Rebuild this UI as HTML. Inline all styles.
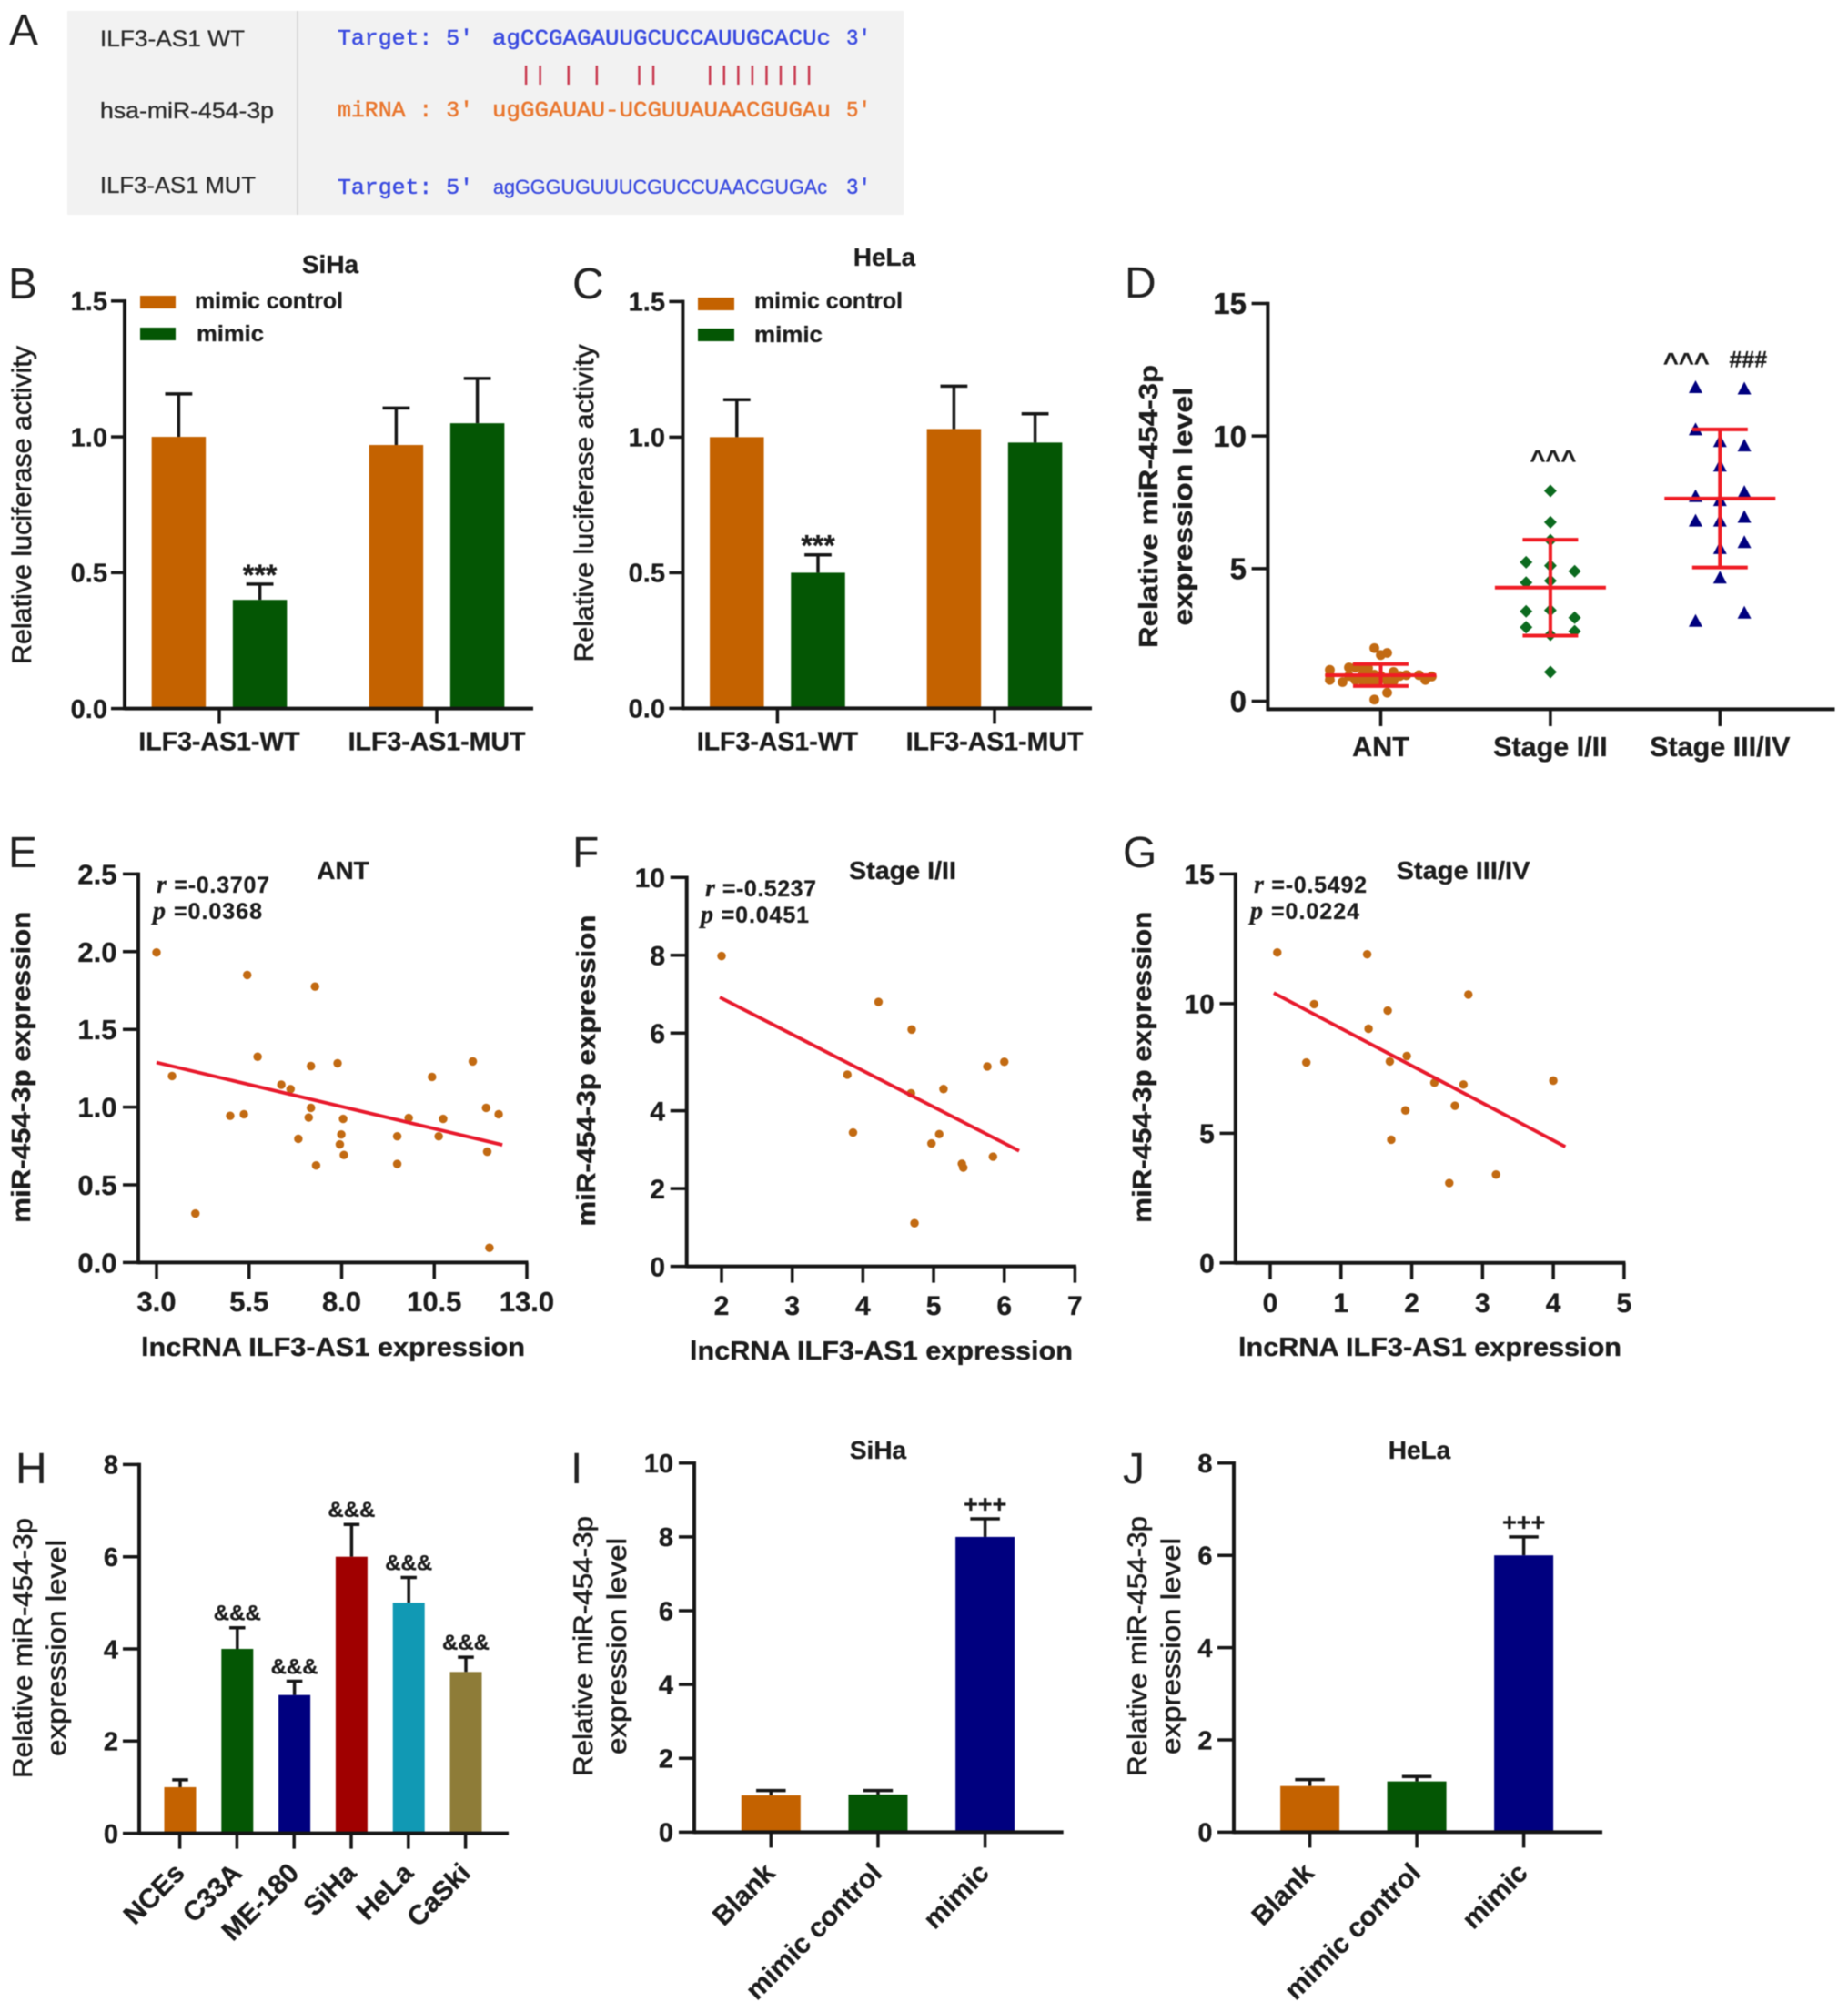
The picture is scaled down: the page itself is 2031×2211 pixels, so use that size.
<!DOCTYPE html>
<html lang="en">
<head>
<meta charset="utf-8">
<title>miR-454-3p figure</title>
<style>
html,body{margin:0;padding:0;background:#fff;}
svg{display:block;filter:blur(0.55px);font-family:"Liberation Sans",sans-serif;fill:#1c1c1c;}
text[font-weight=bold]{stroke:#1c1c1c;stroke-width:.3px;}
.letter{font-size:48px;fill:#222;}
.title{font-size:28px;font-weight:bold;stroke:#1c1c1c;stroke-width:.3px;}
.legend{font-size:25px;font-weight:bold;stroke:#1c1c1c;stroke-width:.3px;}
.ytitle-r{font-size:30px;stroke:#1c1c1c;stroke-width:.55px;}
.ytitle-b{font-size:29px;font-weight:bold;stroke:#1c1c1c;stroke-width:.35px;}
.stat{font-size:25px;font-weight:bold;stroke:#1c1c1c;stroke-width:.25px;}
.stat .i{font-family:"Liberation Serif",serif;font-style:italic;font-size:28px;}
.mono{font-family:"Liberation Mono",monospace;font-size:24px;stroke-width:.5px;}
.blue{fill:#3a4be0;stroke:#3a4be0;}
.orange{fill:#e9772f;stroke:#e9772f;}
.a-label{font-size:25px;fill:#2a2a2a;stroke:#2a2a2a;stroke-width:.3px;}
.seq-sans{font-size:22px;fill:#3a4be0;stroke:#3a4be0;stroke-width:.3px;}
</style>
</head>
<body>
<svg id="figure" xmlns="http://www.w3.org/2000/svg" width="2031" height="2211" viewBox="0 0 2031 2211">
<rect x="0" y="0" width="2031" height="2211" fill="#fff"/>

<g id="panel-a">
  <text class="letter" x="10" y="49">A</text>
  <rect x="74" y="12" width="919" height="224" fill="#f2f2f2"/>
  <rect x="326" y="12" width="2" height="224" fill="#d9d9d9"/>
  <text class="a-label" x="110" y="51" textLength="159" lengthAdjust="spacingAndGlyphs">ILF3-AS1 WT</text>
  <text class="a-label" x="110" y="130" textLength="191" lengthAdjust="spacingAndGlyphs">hsa-miR-454-3p</text>
  <text class="a-label" x="110" y="212" textLength="171" lengthAdjust="spacingAndGlyphs">ILF3-AS1 MUT</text>
  <text class="mono blue" x="371" y="49" textLength="149" lengthAdjust="spacingAndGlyphs">Target: 5'</text>
  <text class="mono blue" x="541" y="49" textLength="372" lengthAdjust="spacingAndGlyphs">agCCGAGAUUGCUCCAUUGCACUc</text>
  <text class="mono blue" x="930" y="49" textLength="27" lengthAdjust="spacingAndGlyphs">3'</text>
  <text class="mono orange" x="371" y="128" textLength="149" lengthAdjust="spacingAndGlyphs">miRNA : 3'</text>
  <text class="mono orange" x="541" y="128" textLength="372" lengthAdjust="spacingAndGlyphs">ugGGAUAU-UCGUUAUAACGUGAu</text>
  <text class="mono orange" x="930" y="128" textLength="27" lengthAdjust="spacingAndGlyphs">5'</text>
  <text class="mono blue" x="371" y="213" textLength="149" lengthAdjust="spacingAndGlyphs">Target: 5'</text>
  <text class="seq-sans" x="542" y="213" textLength="367" lengthAdjust="spacingAndGlyphs">agGGGUGUUUCGUCCUAACGUGAc</text>
  <text class="mono blue" x="930" y="213" textLength="27" lengthAdjust="spacingAndGlyphs">3'</text>
  <g id="pair-marks" stroke="#c93a50" stroke-width="2.5"></g>
</g>

<g id="panel-b">
  <text class="letter" x="9" y="328">B</text>
  <text class="title" x="363" y="300" text-anchor="middle">SiHa</text>
  <text class="ytitle-r" transform="translate(34 555) rotate(-90)" text-anchor="middle" textLength="350" lengthAdjust="spacingAndGlyphs">Relative luciferase activity</text>
  <rect x="154" y="325" width="39" height="14" fill="#c46200"/>
  <rect x="154" y="360" width="39" height="14" fill="#045604"/>
  <text class="legend" x="214" y="339" textLength="163" lengthAdjust="spacingAndGlyphs">mimic control</text>
  <text class="legend" x="216" y="375" textLength="74" lengthAdjust="spacingAndGlyphs">mimic</text>
</g>

<g id="panel-c">
  <text class="letter" x="629" y="328">C</text>
  <text class="title" x="972" y="292" text-anchor="middle">HeLa</text>
  <text class="ytitle-r" transform="translate(652 553) rotate(-90)" text-anchor="middle" textLength="349" lengthAdjust="spacingAndGlyphs">Relative luciferase activity</text>
  <rect x="767" y="327" width="40" height="14" fill="#c46200"/>
  <rect x="767" y="361" width="40" height="14" fill="#045604"/>
  <text class="legend" x="829" y="339" textLength="163" lengthAdjust="spacingAndGlyphs">mimic control</text>
  <text class="legend" x="829" y="376" textLength="75" lengthAdjust="spacingAndGlyphs">mimic</text>
</g>

<g id="panel-d">
  <text class="letter" x="1236" y="327">D</text>
  <text class="ytitle-b" transform="translate(1272 556.5) rotate(-90)" text-anchor="middle" textLength="311" lengthAdjust="spacingAndGlyphs">Relative miR-454-3p</text>
  <text class="ytitle-b" transform="translate(1310 556.5) rotate(-90)" text-anchor="middle" textLength="262" lengthAdjust="spacingAndGlyphs">expression level</text>
</g>

<g id="panel-e">
  <text class="letter" x="9" y="953">E</text>
  <text class="title" x="377" y="966" text-anchor="middle">ANT</text>
  <text class="ytitle-b" transform="translate(33 1172.7) rotate(-90)" text-anchor="middle" textLength="342" lengthAdjust="spacingAndGlyphs">miR-454-3p expression</text>
  <text class="ytitle-b" x="155" y="1490" textLength="422" lengthAdjust="spacingAndGlyphs">lncRNA ILF3-AS1 expression</text>
  <text class="stat" x="172" y="981" textLength="124" lengthAdjust="spacing"><tspan class="i">r</tspan> =-0.3707</text>
  <text class="stat" x="168" y="1010" textLength="120" lengthAdjust="spacing"><tspan class="i">p</tspan> =0.0368</text>
</g>

<g id="panel-f">
  <text class="letter" x="629" y="953">F</text>
  <text class="title" x="992" y="966" text-anchor="middle" textLength="118" lengthAdjust="spacingAndGlyphs">Stage I/II</text>
  <text class="ytitle-b" transform="translate(654 1176.6) rotate(-90)" text-anchor="middle" textLength="342" lengthAdjust="spacingAndGlyphs">miR-454-3p expression</text>
  <text class="ytitle-b" x="758" y="1494" textLength="421" lengthAdjust="spacingAndGlyphs">lncRNA ILF3-AS1 expression</text>
  <text class="stat" x="775" y="985" textLength="122" lengthAdjust="spacing"><tspan class="i">r</tspan> =-0.5237</text>
  <text class="stat" x="770" y="1014" textLength="119" lengthAdjust="spacing"><tspan class="i">p</tspan> =0.0451</text>
</g>

<g id="panel-g">
  <text class="letter" x="1234" y="953">G</text>
  <text class="title" x="1608" y="966" text-anchor="middle" textLength="147" lengthAdjust="spacingAndGlyphs">Stage III/IV</text>
  <text class="ytitle-b" transform="translate(1265 1172.7) rotate(-90)" text-anchor="middle" textLength="342" lengthAdjust="spacingAndGlyphs">miR-454-3p expression</text>
  <text class="ytitle-b" x="1361" y="1490" textLength="421" lengthAdjust="spacingAndGlyphs">lncRNA ILF3-AS1 expression</text>
  <text class="stat" x="1378" y="981" textLength="124" lengthAdjust="spacing"><tspan class="i">r</tspan> =-0.5492</text>
  <text class="stat" x="1374" y="1010" textLength="120" lengthAdjust="spacing"><tspan class="i">p</tspan> =0.0224</text>
</g>

<g id="panel-h">
  <text class="letter" x="17" y="1630">H</text>
  <text class="ytitle-r" transform="translate(35 1811) rotate(-90)" text-anchor="middle" textLength="286" lengthAdjust="spacingAndGlyphs">Relative miR-454-3p</text>
  <text class="ytitle-r" transform="translate(72 1811) rotate(-90)" text-anchor="middle" textLength="238" lengthAdjust="spacingAndGlyphs">expression level</text>
</g>

<g id="panel-i">
  <text class="letter" x="627" y="1630">I</text>
  <text class="title" x="965" y="1603" text-anchor="middle">SiHa</text>
  <text class="ytitle-r" transform="translate(651 1809) rotate(-90)" text-anchor="middle" textLength="286" lengthAdjust="spacingAndGlyphs">Relative miR-454-3p</text>
  <text class="ytitle-r" transform="translate(688 1809) rotate(-90)" text-anchor="middle" textLength="238" lengthAdjust="spacingAndGlyphs">expression level</text>
</g>

<g id="panel-j">
  <text class="letter" x="1234" y="1630">J</text>
  <text class="title" x="1560" y="1603" text-anchor="middle">HeLa</text>
  <text class="ytitle-r" transform="translate(1260 1809) rotate(-90)" text-anchor="middle" textLength="286" lengthAdjust="spacingAndGlyphs">Relative miR-454-3p</text>
  <text class="ytitle-r" transform="translate(1297 1809) rotate(-90)" text-anchor="middle" textLength="238" lengthAdjust="spacingAndGlyphs">expression level</text>
</g>
</svg>

<script>
/* ---------- Panel B ---------- */
const bCategories = ['ILF3-AS1-WT', 'ILF3-AS1-MUT'];
const bControl = [1.0, 0.97];
const bControlErr = [0.158, 0.136];
const bMimic = [0.4, 1.05];
const bMimicErr = [0.058, 0.165];
const bYTicks = [0, 0.5, 1, 1.5];
const bYTickLabels = ['0.0', '0.5', '1.0', '1.5'];
const bSignificance = ['***', ''];

/* ---------- Panel C ---------- */
const cCategories = ['ILF3-AS1-WT', 'ILF3-AS1-MUT'];
const cControl = [1.0, 1.03];
const cControlErr = [0.138, 0.158];
const cMimic = [0.5, 0.98];
const cMimicErr = [0.066, 0.106];
const cYTicks = [0, 0.5, 1, 1.5];
const cYTickLabels = ['0.0', '0.5', '1.0', '1.5'];
const cSignificance = ['***', ''];

/* ---------- Panel D ---------- */
const dCategories = ['ANT', 'Stage I/II', 'Stage III/IV'];
const dYTicks = [0, 5, 10, 15];
const dYTickLabels = ['0', '5', '10', '15'];
const dMeans = [0.98, 4.28, 7.64];
const dUpper = [1.4, 6.09, 10.25];
const dLower = [0.57, 2.47, 5.04];
const dAntValues = [2.0, 1.82, 1.74, 1.18, 0.8, 0.72, 1.27, 1.27, 1.27, 0.95, 0.8, 0.8, 0.76, 0.7, 1.1, 0.95, 0.98, 0.76, 0.98, 0.8, 0.93, 0.06, 0.32, 1.0, 1.0, 0.95, 0.98, 0.76, 1.25, 0.95];
const dAntSlots = [-1, 1, 0, -8, -8, -6, -5, -4, -3, -5, -4, -3, -2, -1, 2, 3, 4, 2, 6, 7, 8, -1, 1, -1, -2, -3, -8, 1, -2, 0];
const dEarlyValues = [7.93, 6.75, 6.07, 5.24, 5.11, 4.9, 4.47, 4.54, 3.39, 3.43, 3.15, 2.79, 2.64, 2.5, 1.1];
const dEarlySlots = [0, 0, 0, -1, 0, 1, -1, 0, -1, 0, 1, -1, 1, 0, 0];
const dLateValues = [11.84, 11.79, 10.25, 9.81, 9.64, 8.88, 7.73, 7.89, 7.58, 6.81, 6.81, 6.95, 5.77, 6.0, 4.66, 3.34, 3.03];
const dLateSlots = [-1, 1, -1, 0, 1, 0, -1, 1, 0, -1, 0, 1, 0, 1, 0, 1, -1];
const dCaretLevels = [8.79, 12.46];

/* ---------- Panel E ---------- */
const eX = [3.0, 3.42, 4.05, 4.99, 5.36, 5.45, 5.73, 6.37, 6.62, 6.83, 7.11, 7.17, 7.17, 7.28, 7.31, 7.89, 7.95, 7.99, 8.04, 8.06, 9.5, 9.5, 9.81, 10.44, 10.62, 10.74, 11.54, 11.9, 11.93, 11.99, 12.24];
const eY = [1.995, 1.2, 0.315, 0.944, 0.954, 1.85, 1.324, 1.144, 1.116, 0.796, 0.933, 0.995, 1.264, 1.775, 0.625, 1.282, 0.76, 0.824, 0.924, 0.692, 0.812, 0.634, 0.93, 1.194, 0.812, 0.924, 1.294, 0.995, 0.713, 0.095, 0.954];
const eLineX = [3.0, 12.34];
const eLineY = [1.287, 0.757];
const eXTicks = [3, 5.5, 8, 10.5, 13];
const eXTickLabels = ['3.0', '5.5', '8.0', '10.5', '13.0'];
const eYTicks = [0, 0.5, 1, 1.5, 2, 2.5];
const eYTickLabels = ['0.0', '0.5', '1.0', '1.5', '2.0', '2.5'];

/* ---------- Panel F ---------- */
const fX = [2.0, 3.78, 3.86, 4.22, 4.68, 4.69, 4.73, 4.97, 5.08, 5.14, 5.4, 5.42, 5.76, 5.84, 6.0];
const fY = [7.98, 4.93, 3.44, 6.8, 4.45, 6.09, 1.11, 3.16, 3.4, 4.56, 2.64, 2.54, 5.14, 2.82, 5.26];
const fLineX = [1.975, 6.21];
const fLineY = [6.92, 2.97];
const fXTicks = [2, 3, 4, 5, 6, 7];
const fXTickLabels = ['2', '3', '4', '5', '6', '7'];
const fYTicks = [0, 2, 4, 6, 8, 10];
const fYTickLabels = ['0', '2', '4', '6', '8', '10'];

/* ---------- Panel G ---------- */
const gX = [0.1, 0.62, 0.51, 1.37, 1.39, 1.66, 1.69, 1.71, 1.91, 1.93, 2.32, 2.53, 2.61, 2.73, 2.8, 3.19, 4.0];
const gY = [11.97, 9.98, 7.73, 11.9, 9.03, 9.73, 7.77, 4.75, 5.88, 7.98, 6.95, 3.08, 6.06, 6.88, 10.35, 3.41, 7.03];
const gLineX = [0.05, 4.17];
const gLineY = [10.41, 4.48];
const gXTicks = [0, 1, 2, 3, 4, 5];
const gXTickLabels = ['0', '1', '2', '3', '4', '5'];
const gYTicks = [0, 5, 10, 15];
const gYTickLabels = ['0', '5', '10', '15'];

/* ---------- Panel H ---------- */
const hCategories = ['NCEs', 'C33A', 'ME-180', 'SiHa', 'HeLa', 'CaSki'];
const hValues = [1, 4, 3, 6, 5, 3.5];
const hErrors = [0.16, 0.46, 0.3, 0.7, 0.55, 0.32];
const hColors = ['#c46200', '#045604', '#00007f', '#a00000', '#1199b4', '#8e7c38'];
const hYTicks = [0, 2, 4, 6, 8];
const hYTickLabels = ['0', '2', '4', '6', '8'];
const hSignificance = ['', '&&&', '&&&', '&&&', '&&&', '&&&'];

/* ---------- Panel I ---------- */
const iCategories = ['Blank', 'mimic control', 'mimic'];
const iValues = [1, 1.02, 8];
const iErrors = [0.13, 0.11, 0.49];
const iColors = ['#c46200', '#045604', '#00007f'];
const iYTicks = [0, 2, 4, 6, 8, 10];
const iYTickLabels = ['0', '2', '4', '6', '8', '10'];
const iSignificance = ['', '', '+++'];

/* ---------- Panel J ---------- */
const jCategories = ['Blank', 'mimic control', 'mimic'];
const jValues = [1, 1.1, 6];
const jErrors = [0.14, 0.106, 0.4];
const jColors = ['#c46200', '#045604', '#00007f'];
const jYTicks = [0, 2, 4, 6, 8];
const jYTickLabels = ['0', '2', '4', '6', '8'];
const jSignificance = ['', '', '+++'];

/* ---------- Panel A pairing (base index along the sequence) ---------- */
const pairIndexes = [2, 3, 5, 7, 10, 11, 15, 16, 17, 18, 19, 20, 21, 22];

const NS = 'http://www.w3.org/2000/svg';
const INK = '#161616';

function add(parent, tag, attrs, content) {
  const node = document.createElementNS(NS, tag);
  Object.keys(attrs).forEach(function (k) { node.setAttribute(k, attrs[k]); });
  if (content !== undefined) node.textContent = content;
  parent.appendChild(node);
  return node;
}
function linear(d0, d1, r0, r1) {
  return function (v) { return r0 + (v - d0) * (r1 - r0) / (d1 - d0); };
}
function panel(id) { return document.getElementById(id); }

function drawYAxis(g, o) {
  const spine = add(g, 'line', { x1: o.axisX, x2: o.axisX, y1: o.scale(o.ticks[o.ticks.length - 1]) - 1.8, y2: o.bottom + 1.8, stroke: INK, 'stroke-width': 4 });
  
  
  o.ticks.forEach(function (t, i) {
    const y = o.scale(t);
    const mark = add(g, 'line', { x1: o.tickLeft, x2: o.axisX, y1: y, y2: y, stroke: INK, 'stroke-width': 3.5 });
    
    
    const label = add(g, 'text', { x: o.labelRight, y: y + o.fontSize * 0.355, 'text-anchor': 'end', 'font-size': o.fontSize, 'font-weight': 'bold' }, o.labels[i]);
    
    
  });
}
function drawXBase(g, axisX, right, y) {
  const base = add(g, 'line', { x1: axisX, x2: right, y1: y, y2: y, stroke: INK, 'stroke-width': 4 });
  
  
}
function drawXTick(g, x, y0, y1) {
  const mark = add(g, 'line', { x1: x, x2: x, y1: y0, y2: y1, stroke: INK, 'stroke-width': 3.5 });
  
  
}
function drawBar(g, cx, width, yScale, value, err, color) {
  const stem = add(g, 'line', { x1: cx, x2: cx, y1: yScale(value), y2: yScale(value + err), stroke: INK, 'stroke-width': 3.5 });
  
  
  const cap = add(g, 'line', { x1: cx - width * 0.25, x2: cx + width * 0.25, y1: yScale(value + err), y2: yScale(value + err), stroke: INK, 'stroke-width': 3.5 });
  
  
  const bar = add(g, 'rect', { x: cx - width / 2, y: yScale(value), width: width, height: yScale(0) - yScale(value), fill: color });
  
  
}

/* Grouped luciferase bars */
function drawGrouped(id, L, cats, ctrl, ctrlErr, mim, mimErr, ticks, labels, sig) {
  const g = panel(id);
  const y = linear(0, 1.5, L.y0, L.y1);
  const x = function (i) { return L.first + i * L.step; };
  cats.forEach(function (c, i) {
    drawBar(g, x(i) - L.offset, L.barW, y, ctrl[i], ctrlErr[i], '#c46200');
    drawBar(g, x(i) + L.offset, L.barW, y, mim[i], mimErr[i], '#045604');
    if (sig[i]) {
      const star = add(g, 'text', { x: x(i) + L.offset, y: y(mim[i] + mimErr[i]) + 1, 'text-anchor': 'middle', 'font-size': 32, 'font-weight': 'bold' }, sig[i]);
      
      
    }
  });
  drawYAxis(g, { axisX: L.axisX, tickLeft: L.tickLeft, labelRight: L.labelRight, fontSize: 29, scale: y, ticks: ticks, labels: labels, bottom: L.y0 });
  drawXBase(g, L.axisX, L.right, L.y0);
  cats.forEach(function (c, i) {
    drawXTick(g, x(i), L.y0, L.y0 + 17);
    const lab = add(g, 'text', { x: x(i), y: L.y0 + 46, 'text-anchor': 'middle', 'font-size': 28.5, 'font-weight': 'bold' }, c);
    
    
  });
}
drawGrouped('panel-b', { y0: 778.6, y1: 330.8, first: 241, step: 239, offset: 44.6, barW: 59.5, axisX: 137, tickLeft: 122, labelRight: 118, right: 586 }, bCategories, bControl, bControlErr, bMimic, bMimicErr, bYTicks, bYTickLabels, bSignificance);
drawGrouped('panel-c', { y0: 778.4, y1: 331.4, first: 854.4, step: 238.6, offset: 44.6, barW: 59.5, axisX: 750.4, tickLeft: 735.4, labelRight: 731, right: 1200 }, cCategories, cControl, cControlErr, cMimic, cMimicErr, cYTicks, cYTickLabels, cSignificance);

/* Panel D dot plot */
(function () {
  const g = panel('panel-d');
  const y = linear(0, 15, 770.5, 333.5);
  const x = function (i) { return 1517.5 + i * 186.4; };
  const baseY = 779.4;
  drawYAxis(g, { axisX: 1393.4, tickLeft: 1375.6, labelRight: 1370, fontSize: 33, scale: y, ticks: dYTicks, labels: dYTickLabels, bottom: baseY });
  drawXBase(g, 1393.4, 2016.5, baseY);
  dCategories.forEach(function (c, i) {
    drawXTick(g, x(i), baseY, 798);
    const lab = add(g, 'text', { x: x(i), y: 831, 'text-anchor': 'middle', 'font-size': 30.5, 'font-weight': 'bold' }, c);
    
    
  });
  dAntValues.forEach(function (v, i) {
    const dot = add(g, 'circle', { cx: x(0) + dAntSlots[i] * 7, cy: y(v), r: 5.4, fill: '#c26a12' });
    
    
  });
  dEarlyValues.forEach(function (v, i) {
    const cx = x(1) + dEarlySlots[i] * 26.7;
    const cy = y(v);
    const mark = add(g, 'polygon', { points: [cx, cy - 7, cx + 7, cy, cx, cy + 7, cx - 7, cy].join(' '), fill: '#0b6a1e' });
    
    
  });
  dLateValues.forEach(function (v, i) {
    const cx = x(2) + dLateSlots[i] * 26.8;
    const cy = y(v);
    const mark = add(g, 'polygon', { points: [cx, cy - 7.5, cx + 7.5, cy + 6.5, cx - 7.5, cy + 6.5].join(' '), fill: '#00007f' });
    
    
  });
  dMeans.forEach(function (m, i) {
    const cx = x(i);
    const stem = add(g, 'line', { x1: cx, x2: cx, y1: y(dUpper[i]), y2: y(dLower[i]), stroke: '#f01c24', 'stroke-width': 4 });
    
    
    const mean = add(g, 'line', { x1: cx - 61, x2: cx + 61, y1: y(m), y2: y(m), stroke: '#f01c24', 'stroke-width': 4 });
    
    
    const up = add(g, 'line', { x1: cx - 30.5, x2: cx + 30.5, y1: y(dUpper[i]), y2: y(dUpper[i]), stroke: '#f01c24', 'stroke-width': 4 });
    
    
    const low = add(g, 'line', { x1: cx - 30.5, x2: cx + 30.5, y1: y(dLower[i]), y2: y(dLower[i]), stroke: '#f01c24', 'stroke-width': 4 });
    
    
  });
  const c1 = add(g, 'text', { x: x(1) + 3, y: y(dCaretLevels[0]), 'text-anchor': 'middle', 'font-size': 29, 'font-weight': 'bold' }, '^^^');
  
  
  const c2 = add(g, 'text', { x: x(2) - 37, y: y(dCaretLevels[1]), 'text-anchor': 'middle', 'font-size': 29, 'font-weight': 'bold' }, '^^^');
  
  
  const c3 = add(g, 'text', { x: x(2) + 31, y: y(dCaretLevels[1]) - 4, 'text-anchor': 'middle', 'font-size': 25, 'font-weight': 'bold' }, '###');
  
  
})();

/* Scatter panels */
function drawScatter(id, L, xs, ys, lineX, lineY, xTicks, xLabels, yTicks, yLabels) {
  const g = panel(id);
  const x = linear(xTicks[0], xTicks[xTicks.length - 1], L.x0, L.x1);
  const y = linear(0, yTicks[yTicks.length - 1], L.y0, L.y1);
  xs.forEach(function (v, i) {
    const dot = add(g, 'circle', { cx: x(v), cy: y(ys[i]), r: 4.7, fill: '#c26a12' });
    
    
  });
  const fit = add(g, 'line', { x1: x(lineX[0]), x2: x(lineX[1]), y1: y(lineY[0]), y2: y(lineY[1]), stroke: '#e8192c', 'stroke-width': 3.8 });
  
  
  drawYAxis(g, { axisX: L.axisX, tickLeft: L.tickLeft, labelRight: L.labelRight, fontSize: L.fs, scale: y, ticks: yTicks, labels: yLabels, bottom: L.y0 });
  drawXBase(g, L.axisX, L.x1 + 1.5, L.y0);
  xTicks.forEach(function (t, i) {
    drawXTick(g, x(t), L.y0, L.y0 + 18);
    const lab = add(g, 'text', { x: x(t), y: L.tickBase, 'text-anchor': 'middle', 'font-size': L.fs, 'font-weight': 'bold' }, xLabels[i]);
    
    
  });
}
drawScatter('panel-e', { x0: 172, x1: 579, y0: 1387.4, y1: 960.4, axisX: 152, tickLeft: 135, labelRight: 128.5, fs: 31, tickBase: 1441 }, eX, eY, eLineX, eLineY, eXTicks, eXTickLabels, eYTicks, eYTickLabels);
drawScatter('panel-f', { x0: 793, x1: 1181.4, y0: 1391.6, y1: 964.3, axisX: 754.7, tickLeft: 736.7, labelRight: 731, fs: 30, tickBase: 1445 }, fX, fY, fLineX, fLineY, fXTicks, fXTickLabels, fYTicks, fYTickLabels);
drawScatter('panel-g', { x0: 1396, x1: 1784.9, y0: 1387.8, y1: 960.4, axisX: 1357.8, tickLeft: 1340.5, labelRight: 1334.8, fs: 30, tickBase: 1442 }, gX, gY, gLineX, gLineY, gXTicks, gXTickLabels, gYTicks, gYTickLabels);

/* Simple bar panels with rotated labels */
function drawSimple(id, L, cats, vals, errs, colors, ticks, labels, sig) {
  const g = panel(id);
  const y = linear(0, ticks[ticks.length - 1], L.y0, L.y1);
  const x = function (i) { return L.first + i * L.step; };
  cats.forEach(function (c, i) {
    drawBar(g, x(i) + L.barShift, L.barW, y, vals[i], errs[i], colors[i]);
    if (sig[i]) {
      const note = add(g, 'text', { x: x(i) + L.barShift, y: y(vals[i] + errs[i]) + L.sigOffset, 'text-anchor': 'middle', 'font-size': L.sigSize, 'font-weight': 'bold' }, sig[i]);
      
      
    }
  });
  drawYAxis(g, { axisX: L.axisX, tickLeft: L.tickLeft, labelRight: L.labelRight, fontSize: 29, scale: y, ticks: ticks, labels: labels, bottom: L.y0 });
  drawXBase(g, L.axisX, L.right, L.y0);
  cats.forEach(function (c, i) {
    drawXTick(g, x(i), L.y0, L.y0 + 17);
    const bx = x(i) + L.labelDx;
    const lab = add(g, 'text', { x: bx, y: L.labelBase, 'text-anchor': 'end', 'font-size': 30, 'font-weight': 'bold', transform: 'rotate(-45 ' + bx + ' ' + L.labelBase + ')' }, c);
    
    
  });
}
drawSimple('panel-h', { y0: 2014.6, y1: 1609.4, first: 197.6, step: 62.8, barW: 35, barShift: 0.4, axisX: 153, tickLeft: 135, labelRight: 130, right: 559, labelBase: 2060, labelDx: 7, sigSize: 24, sigOffset: -8 }, hCategories, hValues, hErrors, hColors, hYTicks, hYTickLabels, hSignificance);
drawSimple('panel-i', { y0: 2013.4, y1: 1607.8, first: 847.3, step: 117.65, barW: 65, barShift: 0, axisX: 763, tickLeft: 746, labelRight: 740, right: 1168.7, labelBase: 2060, labelDx: 6, sigSize: 27, sigOffset: -7 }, iCategories, iValues, iErrors, iColors, iYTicks, iYTickLabels, iSignificance);
drawSimple('panel-j', { y0: 2013.4, y1: 1607.8, first: 1439.6, step: 117.5, barW: 65, barShift: 0, axisX: 1356, tickLeft: 1338, labelRight: 1332.5, right: 1761, labelBase: 2060, labelDx: 6, sigSize: 27, sigOffset: -7 }, jCategories, jValues, jErrors, jColors, jYTicks, jYTickLabels, jSignificance);

/* Panel A base-pair marks */
(function () {
  const g = document.getElementById('pair-marks');
  pairIndexes.forEach(function (k) {
    const px = 547 + k * 15.55;
    const mark = add(g, 'line', { x1: px, x2: px, y1: 72, y2: 93 });
    
    
  });
})();
</script>
</body>
</html>
